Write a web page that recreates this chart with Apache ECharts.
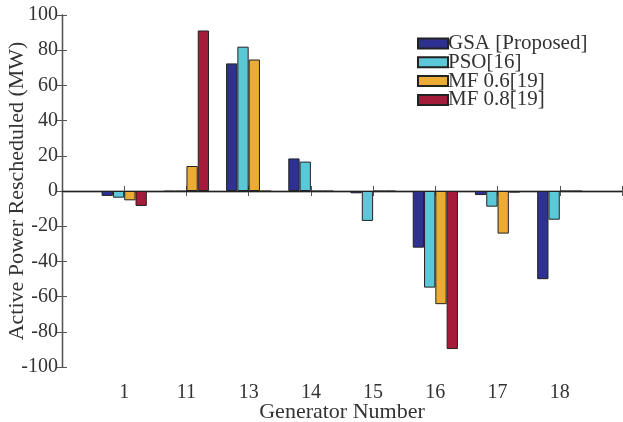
<!DOCTYPE html>
<html>
<head>
<meta charset="utf-8">
<script src="https://cdn.jsdelivr.net/npm/echarts@6/dist/echarts.min.js"></script>
<style>
  html, body { margin: 0; padding: 0; background: #fff; }
  #chart { width: 623px; height: 422px; }
</style>
</head>
<body>
<div id="chart"></div>
<script>
const generators = ["1", "11", "13", "14", "15", "16", "17", "18"];
const gsa = [-2.8, -0.3, 72.5, 18.5, -1.3, -32.2, -2.3, -50.1];
const pso = [-3.8, -0.3, 82, 16.7, -17, -54.9, -8.9, -16.3];
const mf06 = [-5.3, 14.2, 74.7, -0.2, -0.2, -64.3, -24.2, -0.2];
const mf08 = [-8.5, 91.2, -0.2, -0.2, -0.2, -89.8, -0.9, -0.2];
const seriesNames = ["GSA [Proposed]", "PSO[16]", "MF 0.6[19]", "MF 0.8[19]"];
const colors = ["#2e3192", "#5bc8d8", "#ecac34", "#a51c3a"];

const font = "Liberation Serif";
const axisColor = "#555";

const toPoints = values => values.map((v, i) => [i + 1, v]);

const barSeries = [gsa, pso, mf06, mf08].map((values, i) => ({
  name: seriesNames[i],
  type: "bar",
  data: toPoints(values),
  barWidth: 11.3,
  barGap: "0%",
  itemStyle: { color: colors[i], borderColor: "#222", borderWidth: 1 },
  emphasis: { disabled: true }
}));

// zero baseline across the plot
barSeries[0].markLine = {
  silent: true,
  symbol: "none",
  label: { show: false },
  lineStyle: { color: "#222", width: 1.2, type: "solid" },
  data: [{ yAxis: 0 }]
};

const xBase = {
  type: "value",
  min: 0,
  max: 9,
  interval: 1,
  splitLine: { show: false },
  axisLine: { lineStyle: { color: axisColor, width: 1.3 } },
  axisTick: { inside: true, length: 5, lineStyle: { color: axisColor } }
};
const yBase = {
  type: "value",
  min: -100,
  max: 100,
  interval: 20,
  splitLine: { show: false },
  axisLine: { show: true, lineStyle: { color: axisColor, width: 1.3 } },
  axisTick: { show: true, inside: true, length: 5, lineStyle: { color: axisColor } }
};

const chart = echarts.init(document.getElementById("chart"));
chart.setOption({
  animation: false,
  backgroundColor: "#fff",
  grid: { left: 62, right: 1, top: 15, bottom: 55, outerBoundsMode: "none", containLabel: false },
  legend: {
    data: seriesNames,
    orient: "vertical",
    left: 417,
    top: 33,
    padding: 0,
    itemWidth: 30,
    itemHeight: 10,
    itemGap: -2.2,
    icon: "rect",
    textStyle: { fontFamily: font, fontSize: 21, color: "#333", padding: [0, 0, 0, -5] }
  },
  xAxis: [
    Object.assign({}, xBase, {
      position: "bottom",
      name: "Generator Number",
      nameLocation: "middle",
      nameGap: 34,
      nameMoveOverlap: false,
      nameTextStyle: { fontFamily: font, fontSize: 22, color: "#333" },
      axisLabel: {
        fontFamily: font,
        fontSize: 20,
        color: "#333",
        margin: 16,
        formatter: v => (v >= 1 && v <= generators.length ? generators[v - 1] : "")
      }
    }),
    Object.assign({}, xBase, { position: "top", axisLabel: { show: false } })
  ],
  yAxis: [
    Object.assign({}, yBase, {
      position: "left",
      name: "Active Power Rescheduled (MW)",
      nameLocation: "middle",
      nameGap: 34,
      nameMoveOverlap: false,
      nameTextStyle: { fontFamily: font, fontSize: 22, color: "#333" },
      axisLabel: { fontFamily: font, fontSize: 20, color: "#333", margin: 4 }
    }),
    Object.assign({}, yBase, { position: "right", axisLabel: { show: false } })
  ],
  series: barSeries
});
</script>
</body>
</html>
